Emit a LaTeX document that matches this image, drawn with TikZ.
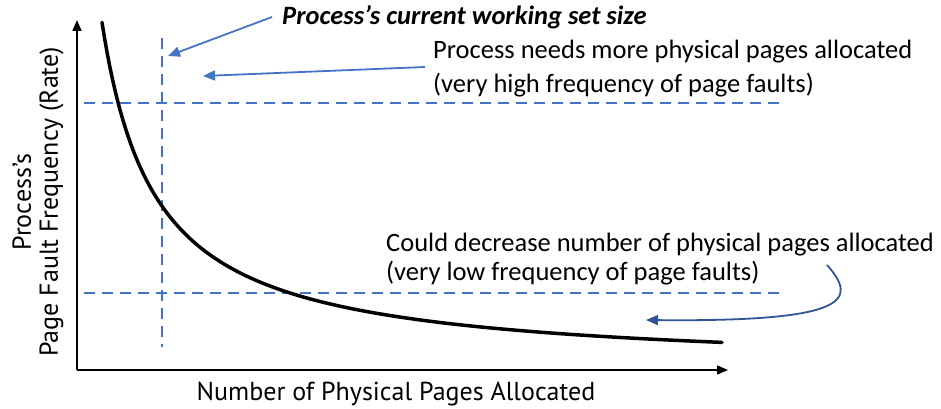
\documentclass[tikz,border=0pt]{standalone}
\usepackage{fontspec}
\setmainfont{Carlito}
\newfontfamily\axisfont{PT Sans}
\usetikzlibrary{arrows.meta}
\definecolor{guide}{HTML}{4472C4}
\definecolor{hint}{HTML}{2F5597}
\tikzset{
  axisline/.style={line width=1.6pt, -{Triangle[length=11pt,width=9pt]}},
  curveline/.style={line width=3.5pt, line cap=round},
  guideline/.style={guide, line width=2.6pt, dash pattern=on 11pt off 7pt},
  callout/.style={guide, line width=1.8pt, -{Triangle[length=12pt,width=10pt]}},
  hintarrow/.style={hint, line width=1.8pt, -{Triangle[length=12pt,width=10pt]}},
  note/.style={font=\fontsize{26.5}{30}\selectfont, inner sep=0pt, anchor=base west},
  axislabel/.style={font=\axisfont\fontsize{26}{27}\selectfont, inner sep=0pt},
}
\begin{document}
\begin{tikzpicture}[x=1pt,y=-1pt]
\useasboundingbox (0,0) rectangle (941,409);

% axes
\coordinate (origin) at (77,370);
\coordinate (ytip) at (77,20);
\coordinate (xtip) at (728,370);
\draw[axisline] (origin) -- (ytip);
\draw[axisline] (origin) -- (xtip);

% threshold lines
\coordinate (hiL) at (84,103);  \coordinate (hiR) at (785,103);
\coordinate (loL) at (84,293);  \coordinate (loR) at (785,293);
\coordinate (wsT) at (162,38);  \coordinate (wsB) at (162,347);
\draw[guideline] (hiL) -- (hiR);
\draw[guideline] (loL) -- (loR);
\draw[guideline] (wsT) -- (wsB);

% page fault rate curve, rate ~ 1/pages
\draw[curveline] plot[domain=102:722, samples=240] (\x, {370 - 186/((\x-48.5)/100)});

% labels
\node[note, font=\fontsize{26.5}{30}\selectfont\bfseries\itshape] (ws) at (282,25) {Process’s current working set size};
\node[note] (hi1) at (433,59) {Process needs more physical pages allocated};
\node[note] (hi2) at (433,93) {(very high frequency of page faults)};
\node[note] (lo1) at (386,251) {Could decrease number of physical pages allocated};
\node[note] (lo2) at (386,280) {(very low frequency of page faults)};

\node[axislabel, anchor=base] (xlab) at (396,400) {Number of Physical Pages Allocated};
\node[axislabel, rotate=90, align=center] (ylab) at (38,202) {Process’s\\Page Fault Frequency (Rate)};

% callouts
\coordinate (wsTip) at (168,56);
\coordinate (hiTip) at (203,76);
\coordinate (loStart) at (827,265);
\coordinate (loTip) at (646,320);
\draw[callout] (272,17) -- (wsTip);
\draw[callout] (425,67) -- (hiTip);
\draw[hintarrow] (loStart) .. controls (858,300) and (850,322) .. (loTip);
\end{tikzpicture}
\end{document}
